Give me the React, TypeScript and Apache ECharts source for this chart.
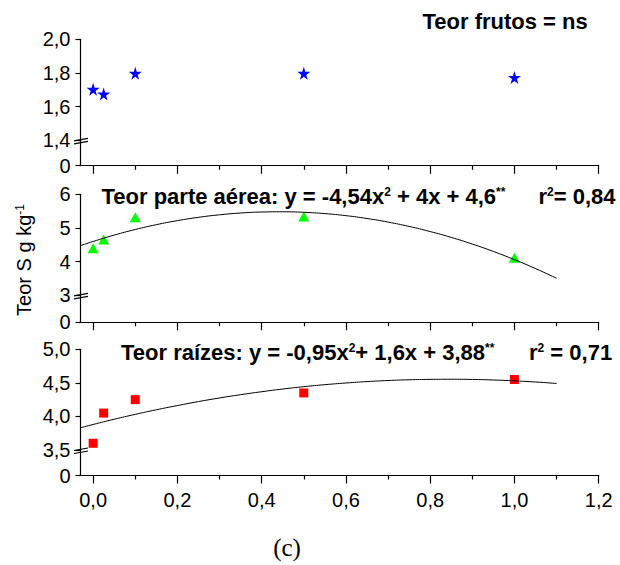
import React, { useEffect, useRef } from 'react';
import * as echarts from 'echarts';

// Doses (x) and measured contents
const doses = [0, 0.025, 0.1, 0.5, 1.0];
const teorFrutos = [1.703, 1.675, 1.798, 1.798, 1.774];
const teorParteAerea = [4.4, 4.66, 5.32, 5.34, 4.12];
const teorRaizes = [3.6, 4.05, 4.25, 4.35, 4.55];

// Fitted curves
const fitX = [-0.03, 0, 0.05, 0.1, 0.15, 0.2, 0.25, 0.3, 0.35, 0.4, 0.45, 0.5, 0.55, 0.6, 0.65, 0.7, 0.75, 0.8, 0.85, 0.9, 0.95, 1.0, 1.05, 1.1];
const fitParteAerea = [4.476, 4.6, 4.789, 4.955, 5.098, 5.218, 5.316, 5.391, 5.444, 5.474, 5.481, 5.465, 5.427, 5.366, 5.282, 5.175, 5.046, 4.894, 4.72, 4.523, 4.303, 4.06, 3.795, 3.507];
const fitRaizes = [3.831, 3.88, 3.958, 4.031, 4.099, 4.162, 4.221, 4.275, 4.324, 4.368, 4.408, 4.443, 4.473, 4.498, 4.519, 4.535, 4.546, 4.552, 4.554, 4.551, 4.543, 4.53, 4.513, 4.491];

// Tick values
const xMajorTicks = [0, 0.2, 0.4, 0.6, 0.8, 1.0, 1.2];
const xMinorTicks = [0.1, 0.3, 0.5, 0.7, 0.9, 1.1];
const yTicksFrutos = [1.25, 1.4, 1.6, 1.8, 2.0]; // lowest tick is the broken "0"
const yTicksParteAerea = [2.2, 3, 4, 5, 6];
const yTicksRaizes = [3.12, 3.5, 4.0, 4.5, 5.0];
const breakValues = [1.4, 3, 3.5];

const FONT = '"Liberation Sans", Arial, sans-serif';
const STAR = 'path://M50,0 L61,35 L98,35 L68,57 L79,91 L50,70 L21,91 L32,57 L2,35 L39,35 Z';

const grids = [
  { left: 80.5, right: 21.3, top: 39.3, height: 126.4 },
  { left: 80.5, right: 21.3, top: 194.3, height: 128 },
  { left: 80.5, right: 21.3, top: 349.3, height: 126.2 },
];

const comma = (v: number, d: number) => v.toFixed(d).replace('.', ',');

function xAxesFor(g: number, showLabels: boolean) {
  return [
    {
      type: 'value', gridIndex: g, min: -0.03, max: 1.2,
      axisLine: { show: true, onZero: false, lineStyle: { color: '#000', width: 1.2 } },
      axisTick: { show: true, customValues: xMajorTicks, length: 8, lineStyle: { color: '#000', width: 1.2 } },
      axisLabel: {
        show: showLabels, customValues: xMajorTicks, margin: 14,
        fontSize: 20, fontFamily: FONT, color: '#000',
        formatter: (v: number) => comma(v, 1),
      },
      splitLine: { show: false },
    },
    {
      type: 'value', gridIndex: g, min: -0.03, max: 1.2, position: 'bottom',
      axisLine: { show: false, onZero: false },
      axisTick: { show: true, customValues: xMinorTicks, length: 4, lineStyle: { color: '#000', width: 1.2 } },
      axisLabel: { show: false },
      splitLine: { show: false },
    },
  ];
}

function yAxisFor(g: number, min: number, max: number, ticks: number[], fmt: (v: number) => string) {
  return {
    type: 'value', gridIndex: g, min, max,
    axisLine: { show: true, onZero: false, lineStyle: { color: '#000', width: 1.2 } },
    axisTick: { show: true, customValues: ticks, length: 5, lineStyle: { color: '#000', width: 1.2 } },
    axisLabel: {
      customValues: ticks, margin: 10, fontSize: 20, fontFamily: FONT, color: '#000',
      formatter: (v: number) => (v === min ? '0' : fmt(v)),
    },
    splitLine: { show: false },
  };
}

const titleStyle = (text: string, x: number, y: number, align = 'left') => ({
  type: 'text', x, y,
  style: {
    text,
    fill: '#000',
    fontSize: 22, fontWeight: 'bold', fontFamily: FONT, lineHeight: 20,
    align, verticalAlign: 'middle',
    rich: {
      sup: { fontSize: 12, fontWeight: 'bold', fontFamily: FONT, lineHeight: 12, verticalAlign: 'top', fill: '#000' },
    },
  },
});

export default function App() {
  const ref = useRef<HTMLDivElement>(null);
  useEffect(() => {
    if (!ref.current) return;
    const chart = echarts.init(ref.current, undefined, { renderer: 'svg' });
    const pair = (xs: number[], ys: number[]) => xs.map((x, i) => [x, ys[i]]);
    chart.setOption({
      animation: false,
      backgroundColor: '#fff',
      grid: grids,
      xAxis: [...xAxesFor(0, false), ...xAxesFor(1, false), ...xAxesFor(2, true)],
      yAxis: [
        yAxisFor(0, 1.25, 2.0, yTicksFrutos, (v) => comma(v, 1)),
        yAxisFor(1, 2.2, 6, yTicksParteAerea, (v) => String(Math.round(v))),
        yAxisFor(2, 3.12, 5.0, yTicksRaizes, (v) => comma(v, 1)),
      ],
      series: [
        {
          type: 'scatter', xAxisIndex: 0, yAxisIndex: 0, data: pair(doses, teorFrutos),
          symbol: STAR, symbolSize: 13, itemStyle: { color: '#0000ff', opacity: 1 },
        },
        {
          type: 'line', xAxisIndex: 2, yAxisIndex: 1, data: pair(fitX, fitParteAerea),
          smooth: true, showSymbol: false, symbol: 'none', lineStyle: { color: '#000', width: 1 },
        },
        {
          type: 'scatter', xAxisIndex: 2, yAxisIndex: 1, data: pair(doses, teorParteAerea),
          symbol: 'triangle', symbolSize: [11, 10], itemStyle: { color: '#00ff00', opacity: 1 },
        },
        {
          type: 'line', xAxisIndex: 4, yAxisIndex: 2, data: pair(fitX, fitRaizes),
          smooth: true, showSymbol: false, symbol: 'none', lineStyle: { color: '#000', width: 1 },
        },
        {
          type: 'scatter', xAxisIndex: 4, yAxisIndex: 2, data: pair(doses, teorRaizes),
          symbol: 'rect', symbolSize: 9, itemStyle: { color: '#ff0000', opacity: 1 },
        },
      ],
    });

    const breakMarks: any[] = [];
    breakValues.forEach((v, i) => {
      const y = chart.convertToPixel({ yAxisIndex: i }, v) as number;
      const ax = grids[i].left;
      breakMarks.push(
        { type: 'line', shape: { x1: ax - 6.5, y1: y + 0.5, x2: ax + 7.5, y2: y - 2 }, style: { stroke: '#000', lineWidth: 1.2 } },
        { type: 'line', shape: { x1: ax - 6.5, y1: y + 3.5, x2: ax + 7.5, y2: y + 1 }, style: { stroke: '#000', lineWidth: 1.2 } },
      );
    });

    chart.setOption({
      graphic: [
        ...breakMarks,
        titleStyle('Teor frutos = ns', 422.5, 21.5),
        titleStyle('Teor parte aérea: y = -4,54x{sup|2} + 4x + 4,6{sup|**}', 101.5, 196),
        titleStyle('r{sup|2}= 0,84', 538.5, 196),
        titleStyle('Teor raízes: y = -0,95x{sup|2}+ 1,6x + 3,88{sup|**}', 121, 352),
        titleStyle('r{sup|2} = 0,71', 529, 352),
        {
          type: 'text', x: 23.5, y: 260, rotation: Math.PI / 2,
          style: {
            text: 'Teor S g kg{sup|-1}', fill: '#000',
            fontSize: 20, fontFamily: FONT, lineHeight: 20,
            align: 'center', verticalAlign: 'middle',
            rich: { sup: { fontSize: 12, fontFamily: FONT, lineHeight: 12, verticalAlign: 'top', fill: '#000' } },
          },
        },
        {
          type: 'text', x: 287, y: 547,
          style: {
            text: '(c)', fill: '#000', fontSize: 25, fontFamily: '"Liberation Serif", "Times New Roman", serif',
            align: 'center', verticalAlign: 'middle',
          },
        },
      ],
    });
    return () => chart.dispose();
  }, []);
  return (
    <div
      ref={ref}
      style={{ position: 'fixed', left: 0, top: 0, width: 620, height: 565, background: '#fff' }}
    />
  );
}
